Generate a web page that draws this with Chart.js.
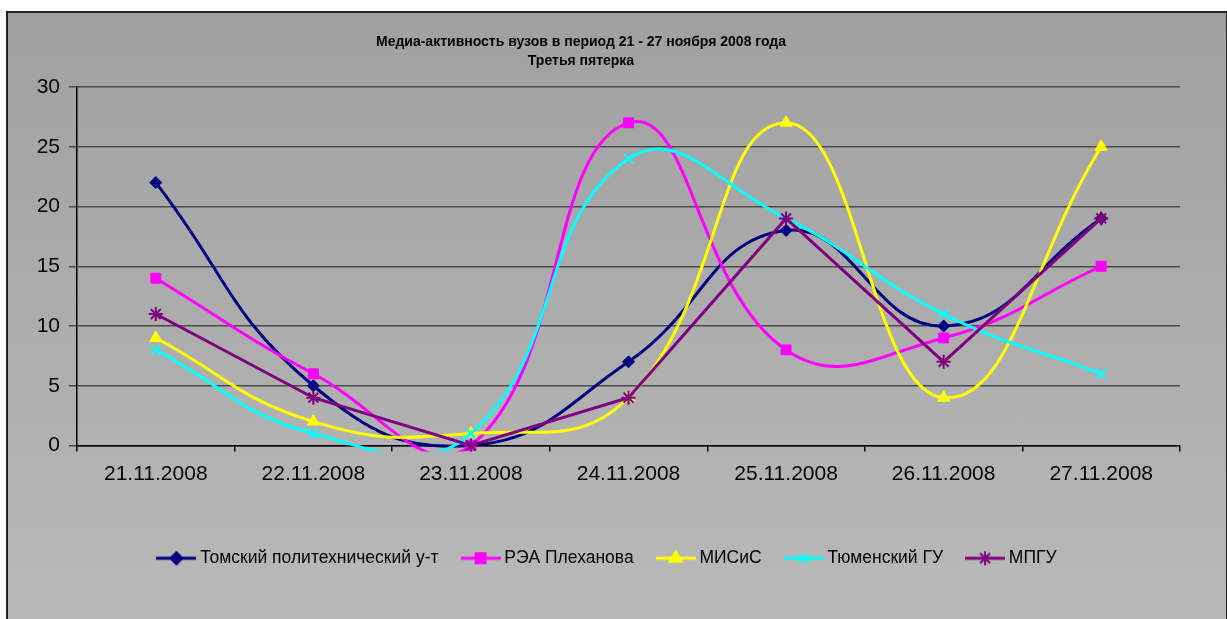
<!DOCTYPE html>
<html>
<head>
<meta charset="utf-8">
<script src="https://cdn.jsdelivr.net/npm/chart.js@4"></script>
<style>
    html, body { margin: 0; padding: 0; background: #fff; width: 1227px; height: 619px; overflow: hidden; }
    #frame { position: absolute; left: 6px; top: 11px; width: 1218px; height: 620px; border: 2px solid #222;
             background: linear-gradient(#a0a0a0, #b9b9b9 606px); }
    #wrap { position: absolute; left: 0; top: 0; width: 1218px; height: 606px; }
</style>
</head>
<body>
<div id="frame"><div id="wrap"><canvas id="chartCanvas" width="1218" height="606"></canvas></div></div>
<script>
// данные
const dates = ['21.11.2008', '22.11.2008', '23.11.2008', '24.11.2008', '25.11.2008', '26.11.2008', '27.11.2008'];
const tomsk = [22, 5, 0, 7, 18, 10, 19];
const rea = [14, 6, 0, 27, 8, 9, 15];
const misis = [9, 2, 1, 4, 27, 4, 25];
const tyumen = [8, 1, 1, 24, 19, 11, 6];
const mpgu = [11, 4, 0, 4, 19, 7, 19];
const titleLines = ['Медиа-активность вузов в период 21 - 27 ноября 2008 года', 'Третья пятерка'];

const FONT = "'Liberation Sans', Arial, sans-serif";

const series = [
    { label: 'Томский политехнический у-т', data: tomsk, color: '#000080', style: 'rectRot', radius: 6, tension: 0.45 },
    { label: 'РЭА Плеханова', data: rea, color: '#ff00ff', style: 'rect', radius: 7, tension: 0.45 },
    { label: 'МИСиС', data: misis, color: '#ffff00', style: 'triangle', radius: 7, tension: 0.45 },
    { label: 'Тюменский ГУ', data: tyumen, color: '#00ffff', style: 'crossRot', radius: 7, tension: 0.45 },
    { label: 'МПГУ', data: mpgu, color: '#800080', style: 'star', radius: 7, tension: 0 }
];

// значок легенды: линия + маркер
function legendIcon(s) {
    const c = document.createElement('canvas');
    c.width = 40; c.height = 18;
    const ctx = c.getContext('2d');
    ctx.strokeStyle = s.color;
    ctx.fillStyle = s.color;
    ctx.lineWidth = 3;
    ctx.beginPath();
    ctx.moveTo(0, 9);
    ctx.lineTo(40, 9);
    ctx.stroke();
    ctx.lineWidth = 2;
    Chart.helpers.drawPoint(ctx, { pointStyle: s.style, radius: s.radius, rotation: 0, borderWidth: 2 }, 20, 9);
    return c;
}
const icons = series.map(legendIcon);

const datasets = series.map((s, i) => ({
    label: s.label,
    data: s.data,
    borderColor: s.color,
    backgroundColor: s.color,
    borderWidth: 3,
    tension: s.tension,
    pointStyle: s.style,
    pointRadius: s.radius,
    pointBorderWidth: (s.style === 'crossRot' || s.style === 'star') ? 2 : 1,
    pointBackgroundColor: s.color,
    pointBorderColor: s.color,
    order: series.length - i,
    clip: { left: 10, top: 10, right: 10, bottom: 6 }
}));

// сдвиг заголовка и легенды, как в Excel
const shiftBoxes = {
    id: 'shiftBoxes',
    afterLayout(chart) {
        chart.titleBlock.left -= 13;
        chart.titleBlock.right -= 13;
        chart.legend.left += 15;
        chart.legend.right += 15;
    }
};

new Chart(document.getElementById('chartCanvas'), {
    type: 'line',
    data: { labels: dates, datasets: datasets },
    plugins: [shiftBoxes],
    options: {
        responsive: false,
        animation: false,
        devicePixelRatio: 1,
        elements: { line: { capBezierPoints: false } },
        layout: { padding: { left: 0, right: 46, top: 0, bottom: 42 } },
        plugins: {
            tooltip: { enabled: false },
            title: {
                display: true,
                text: titleLines,
                color: '#000',
                font: { family: FONT, size: 14, weight: 'bold', lineHeight: 19 / 14 },
                padding: { top: 20, bottom: 16 }
            },
            legend: {
                position: 'bottom',
                labels: {
                    usePointStyle: true,
                    pointStyleWidth: 30,
                    padding: 27,
                    color: '#000',
                    font: { family: FONT, size: 17.5 },
                    generateLabels: (chart) => chart.data.datasets.map((ds, i) => ({
                        text: ds.label,
                        pointStyle: icons[i],
                        fillStyle: ds.borderColor,
                        strokeStyle: ds.borderColor,
                        lineWidth: 0,
                        hidden: false,
                        datasetIndex: i,
                        fontColor: '#000'
                    }))
                }
            }
        },
        scales: {
            x: {
                offset: true,
                afterFit: (s) => { s.height = 77; },
                grid: { offset: true, drawOnChartArea: false, drawTicks: true, tickLength: 6, color: '#000', lineWidth: 1.5 },
                border: { color: '#000', width: 1.5 },
                ticks: { color: '#000', font: { family: FONT, size: 21 }, padding: 10, maxRotation: 0, autoSkip: false }
            },
            y: {
                min: 0,
                max: 30,
                afterFit: (s) => { s.width = 69; },
                grid: { color: '#4a4a4a', lineWidth: 1.5, tickLength: 8 },
                border: { color: '#000', width: 1.5 },
                ticks: { stepSize: 5, color: '#000', font: { family: FONT, size: 21 }, padding: 9 }
            }
        }
    }
});
</script>
</body>
</html>
